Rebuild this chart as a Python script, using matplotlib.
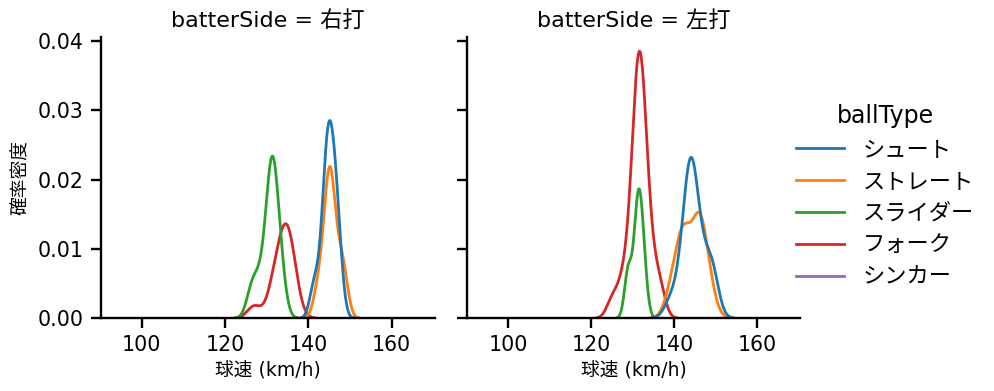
import numpy as np
import matplotlib
matplotlib.use("Agg")
import matplotlib.pyplot as plt
from matplotlib.lines import Line2D

plt.rcParams['font.family'] = ['DejaVu Sans', 'Noto Sans CJK JP']

# pitch speeds (km/h) per batter side and ball type
sides = ["右打", "左打"]
ball_types = ["シュート", "ストレート", "スライダー", "フォーク", "シンカー"]
colors = ["#1f77b4", "#ff7f0e", "#2ca02c", "#d62728", "#9467bd"]

shoot_R = [141, 142, 143, 144, 144, 144, 144, 145, 145, 145, 145, 145, 146, 146, 146, 146, 147, 147, 147, 148]
straight_R = [142, 143, 144, 144, 145, 145, 145, 145, 145, 146, 146, 146, 147, 148, 148, 149]
slider_R = [126, 127, 128, 129, 130, 130, 131, 131, 131, 131, 131, 132, 132, 132, 132, 133, 133, 134]
fork_R = [127, 131, 132, 133, 133, 134, 134, 135, 135, 135, 136, 136, 137]
sinker_R = []

shoot_L = [139, 141, 142, 143, 143, 143, 144, 144, 144, 144, 144, 145, 145, 145, 146, 146, 147, 148, 149, 149, 150]
straight_L = [139, 140, 141, 142, 142, 142, 143, 143, 144, 145, 146, 146, 146, 146, 147, 147, 148, 149]
slider_L = [129, 129, 131, 131, 131, 132, 132, 132, 133]
fork_L = [125, 127, 128, 129, 130, 130, 130, 131, 131, 131, 131, 131, 131,
          132, 132, 132, 132, 132, 132, 132, 133, 133, 133, 133, 134, 134, 135, 136, 137]
sinker_L = [141]

# all pitches per side (includes pitch types not in the legend) -> common normalisation
total_pitches = {"右打": 148, "左打": 131}

speeds = {
    "右打": [shoot_R, straight_R, slider_R, fork_R, sinker_R],
    "左打": [shoot_L, straight_L, slider_L, fork_L, sinker_L],
}


def kde_curve(samples, total, gridsize=200, cut=3):
    x = np.asarray(samples, dtype=float)
    if len(x) < 2 or x.std() == 0:
        return None
    bw = x.std(ddof=1) * len(x) ** (-1 / 5)
    grid = np.linspace(x.min() - cut * bw, x.max() + cut * bw, gridsize)
    z = (grid[:, None] - x[None, :]) / bw
    dens = np.exp(-0.5 * z ** 2).sum(axis=1) / (bw * np.sqrt(2 * np.pi)) / total
    return grid, dens


fig = plt.figure(figsize=(9.95, 3.91), dpi=100)
ax1 = fig.add_axes([100.7 / 995, 73 / 391, 334.3 / 995, 281 / 391])
ax2 = fig.add_axes([467.3 / 995, 73 / 391, 332.7 / 995, 281 / 391], sharey=ax1)

for ax, side in zip([ax1, ax2], sides):
    # seaborn draws hue levels in reverse order
    for bt, col, data in reversed(list(zip(ball_types, colors, speeds[side]))):
        res = kde_curve(data, total_pitches[side])
        if res is None:
            continue
        ax.plot(res[0], res[1], color=col, lw=2.0, solid_capstyle='round')
    ax.set_xlim(90.2, 170.4)
    ax.set_ylim(0, 0.0406)
    ax.set_xticks([100, 120, 140, 160])
    ax.set_yticks([0, 0.01, 0.02, 0.03, 0.04])
    ax.set_title(f"batterSide = {side}", fontsize=16, pad=7)
    ax.set_xlabel("球速 (km/h)", fontsize=13.5, labelpad=3.5)
    ax.spines[['top', 'right']].set_visible(False)
    for s in ['left', 'bottom']:
        ax.spines[s].set_linewidth(1.7)
    ax.tick_params(labelsize=14.8, length=7.5, width=1.7, pad=5)

ax1.yaxis.set_major_formatter(matplotlib.ticker.FormatStrFormatter('%.2f'))
ax1.set_ylabel("確率密度", fontsize=13.5, labelpad=5)
ax2.tick_params(axis='y', labelleft=False)

handles = [Line2D([], [], color=c, lw=2.0) for c in colors]
fig.legend(handles, ball_types, title="ballType", loc='center left',
           bbox_to_anchor=(796 / 995, 1 - 196 / 391), frameon=False,
           fontsize=16, title_fontsize=17, borderpad=0, borderaxespad=0,
           handlelength=2.15, handletextpad=0.85, labelspacing=0.53)

fig.savefig("out.png", dpi=100)
